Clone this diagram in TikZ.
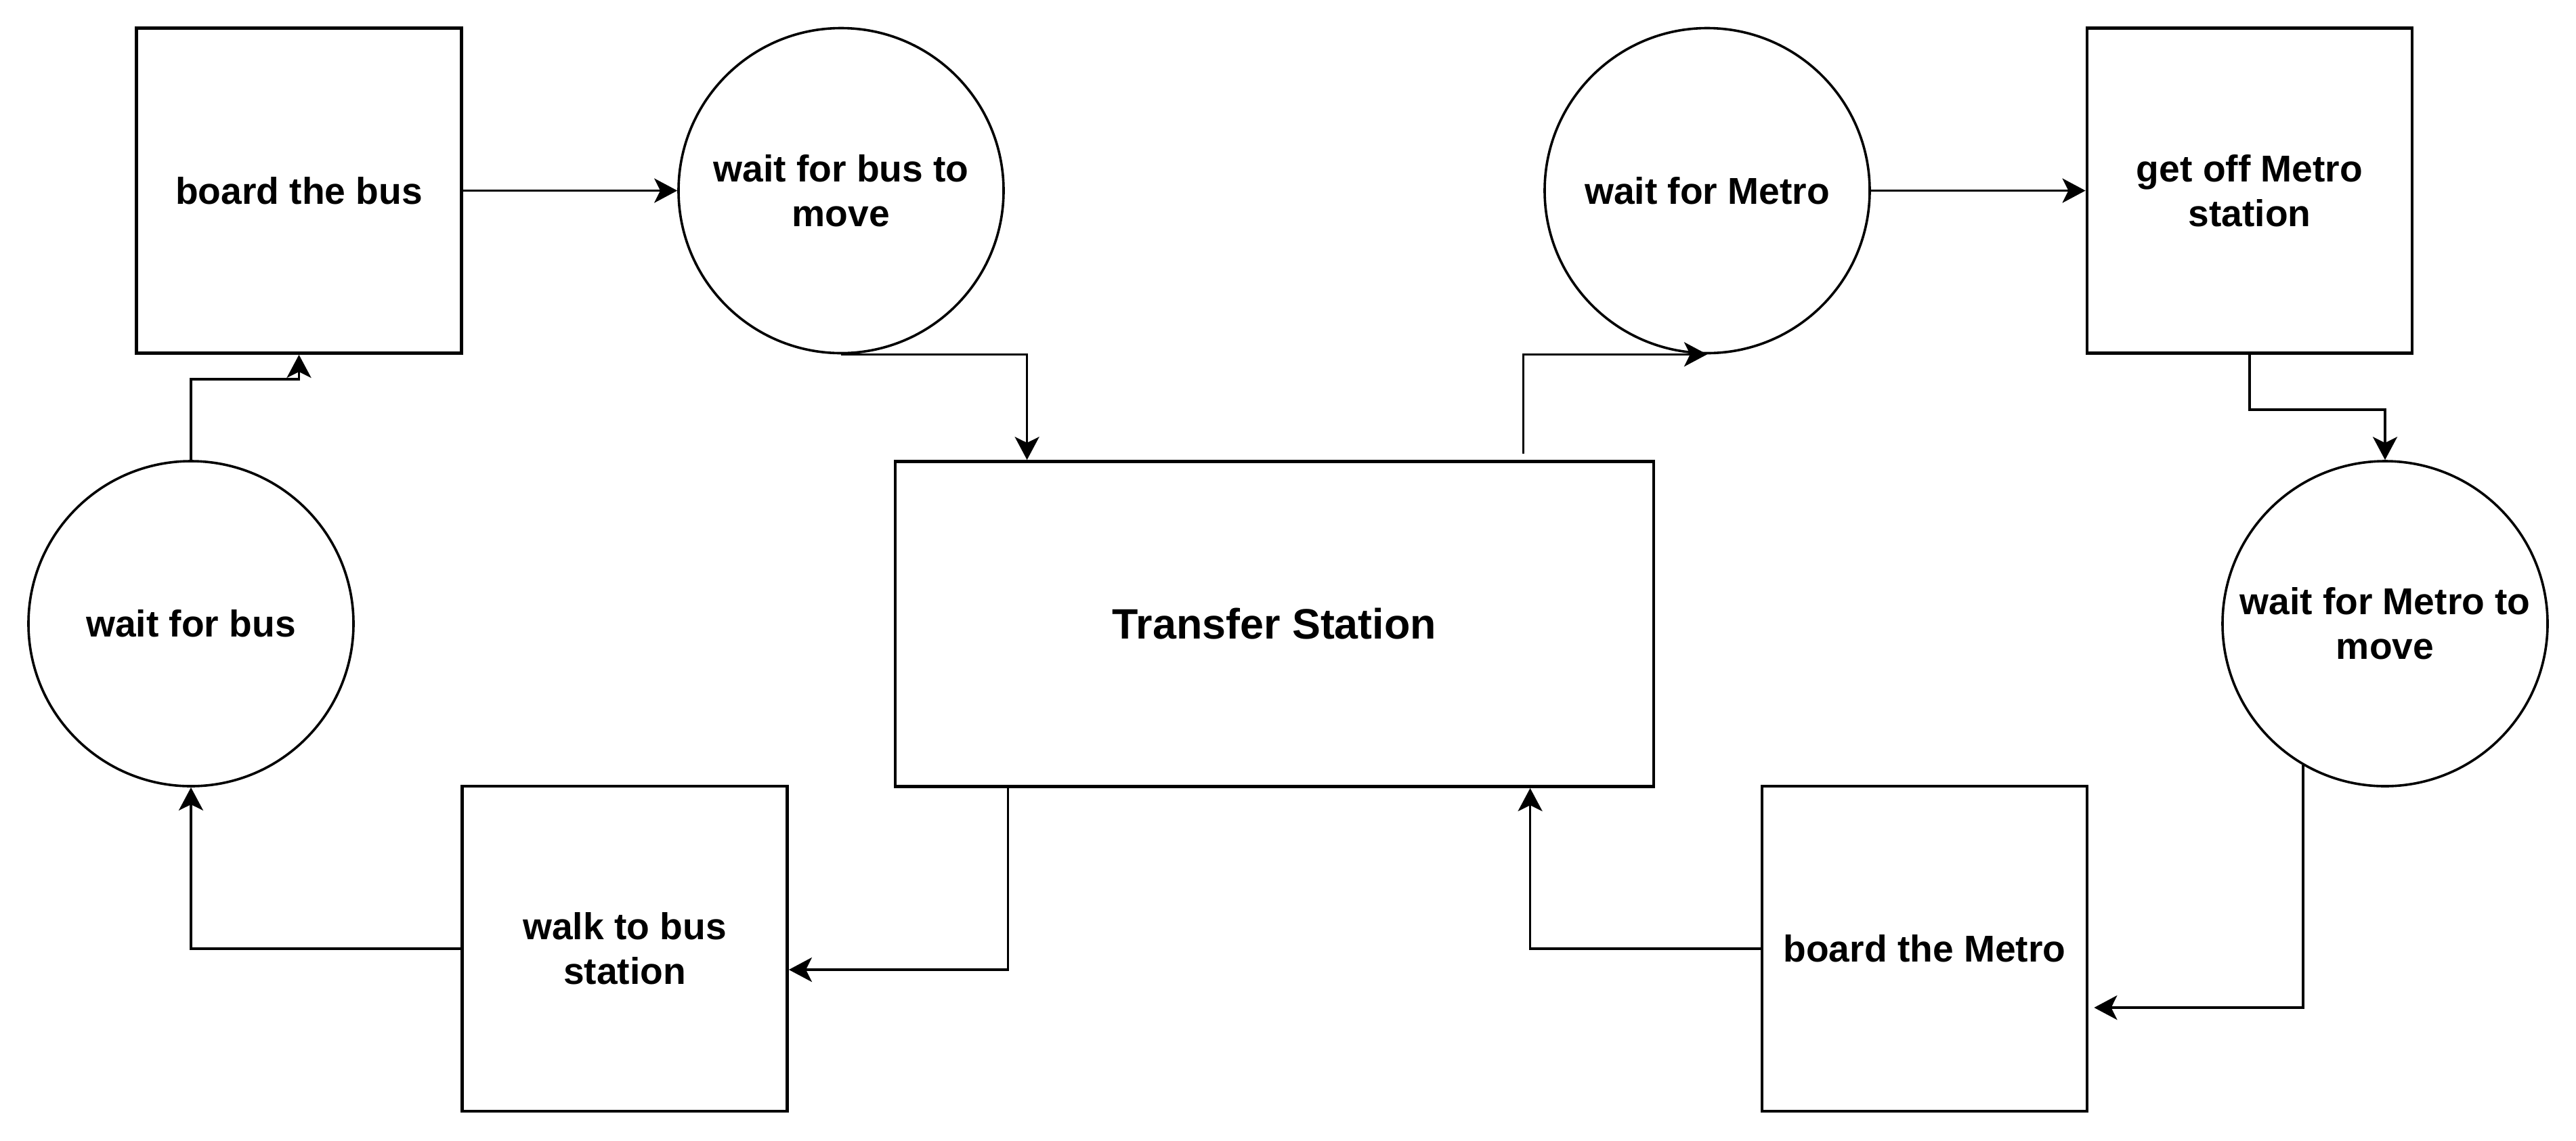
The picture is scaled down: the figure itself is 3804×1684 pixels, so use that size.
\documentclass[tikz,border=0pt]{standalone}
\usepackage{fontspec}
\setmainfont{Liberation Sans}
\usetikzlibrary{arrows.meta,calc}
\begin{document}
\begin{tikzpicture}[x=0.25pt,y=-0.25pt,
  box/.style={draw, line width=1.2pt, minimum width=120pt, minimum height=120pt, inner sep=0pt, align=center, font={\fontsize{13.8pt}{16.6pt}\selectfont\bfseries}},
  circ/.style={draw, circle, line width=0.9pt, minimum size=120pt, inner sep=0pt, align=center, font={\fontsize{13.8pt}{16.6pt}\selectfont\bfseries}},
  bigbox/.style={draw, line width=1.2pt, minimum width=280pt, minimum height=120pt, inner sep=0pt, align=center, font={\fontsize{15.7pt}{18.9pt}\selectfont\bfseries}},
  conn/.style={line width=0.9pt, -{Stealth[length=8.5pt,width=9pt,inset=2.2pt]}},
]
\useasboundingbox (0,0) rectangle (3804,1684);
\node[box]  (bbus) at (441.5,281.5) {board the bus};
\node[circ] (wbm)  at (1242,281.5) {wait for bus to\\move};
\node[circ] (wm)   at (2521,281.5) {wait for Metro};
\node[box]  (gom)  at (3322,281.5) {get off Metro\\station};
\node[circ] (wb)   at (282,921) {wait for bus};
\node[bigbox] (ts) at (1882,921.5) {Transfer Station};
\node[circ] (wmm)  at (3522,921) {wait for Metro to\\move};
\node[box]  (walk) at (922.5,1401) {walk to bus\\station};
\node[box]  (bm)   at (2842,1401) {board the Metro};

\coordinate (t3) at ($(ts.north west)+(930,-9)$);
\coordinate (t2) at ($(ts.north west)+(197,0)$);
\coordinate (t7) at ($(ts.south west)+(940,0)$);
\coordinate (t8) at ($(ts.south west)+(169,0)$);
\coordinate (e6) at ($(bm.east)+(8,87)$);
\coordinate (e8) at ($(walk.east)+(0,31)$);

\draw[conn] (bbus.east) -- (wbm.west);
\draw[conn] (wbm.south) -| (t2);
\draw[conn] (t3) |- (wm.south);
\draw[conn] (wm.east) -- (gom.west);
\draw[conn] (gom.south) -- ++(0,81) -| (wmm.north);
\draw[conn] (wmm.240) |- (e6);
\draw[conn] (bm.west) -| (t7);
\draw[conn] (t8) |- (e8);
\draw[conn] (walk.west) -| (wb.south);
\draw[conn] (wb.north) -- ++(0,-119) -| (bbus.south);
\end{tikzpicture}
\end{document}
